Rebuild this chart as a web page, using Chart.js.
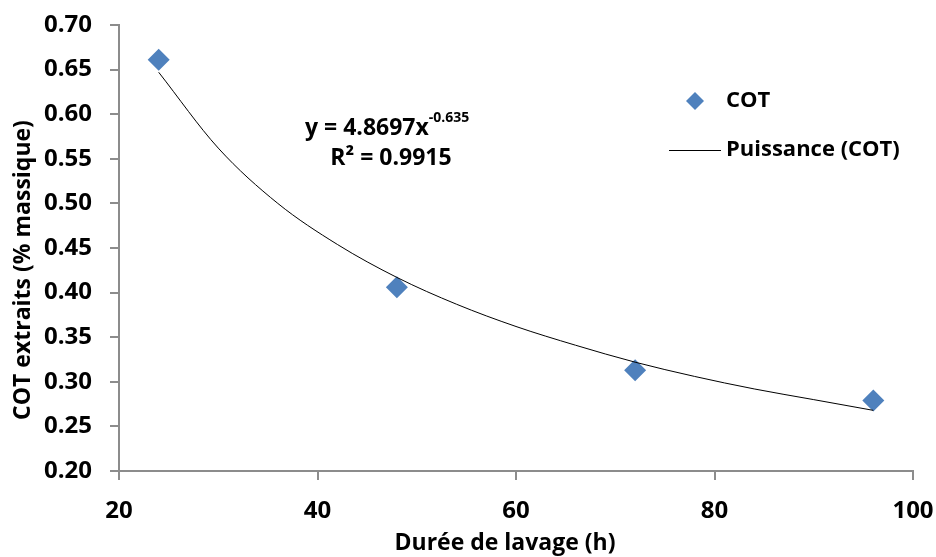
<!DOCTYPE html>
<html>
<head>
<meta charset="utf-8">
<script src="https://cdn.jsdelivr.net/npm/chart.js@4/dist/chart.umd.min.js"></script>
<style>
  html, body { margin: 0; padding: 0; background: #fff; }
  #wrap { width: 936px; height: 557px; }
</style>
</head>
<body>
<div id="wrap"><canvas id="chart" width="936" height="557"></canvas></div>
<script>
// Measured points (washing time in h, extracted TOC in % mass)
const hours = [24, 48, 72, 96];
const cotValues = [0.661, 0.406, 0.313, 0.279];

// Power trendline as drawn in the picture
const trendHours = [24, 30, 36, 42, 48, 54, 60, 66, 72, 78, 84, 90, 96];
const trendValues = [0.647, 0.562, 0.500, 0.454, 0.417, 0.387, 0.362, 0.341, 0.322, 0.306, 0.292, 0.280, 0.268];

const xTicks = [20, 40, 60, 80, 100];
const yTicks = [0.20, 0.25, 0.30, 0.35, 0.40, 0.45, 0.50, 0.55, 0.60, 0.65, 0.70];

const FONT = '"Open Sans", "DejaVu Sans", sans-serif';
const BLUE = '#4F81BD';
const AXIS = '#8c8c8c';

// Draws legend, equation and axis titles at their places in the plot
const annotations = {
  id: 'annotations',
  afterDraw(chart) {
    const ctx = chart.ctx;
    ctx.save();
    ctx.textBaseline = 'middle';

    // legend
    ctx.fillStyle = BLUE;
    ctx.beginPath();
    ctx.moveTo(695, 92); ctx.lineTo(704, 101); ctx.lineTo(695, 110); ctx.lineTo(686, 101);
    ctx.closePath();
    ctx.fill();
    ctx.strokeStyle = '#000';
    ctx.lineWidth = 1;
    ctx.beginPath();
    ctx.moveTo(669, 150.5); ctx.lineTo(721, 150.5);
    ctx.stroke();
    ctx.fillStyle = '#000';
    ctx.font = 'bold 22px ' + FONT;
    ctx.textAlign = 'left';
    ctx.fillText('COT', 726, 101);
    ctx.fillText('Puissance (COT)', 726, 150);

    // trendline equation
    ctx.font = 'bold 23px ' + FONT;
    const main = 'y = 4.8697x';
    ctx.fillText(main, 305, 128);
    const w = ctx.measureText(main).width;
    ctx.font = 'bold 14px ' + FONT;
    ctx.fillText('-0.635', 305 + w, 118);
    ctx.font = 'bold 23px ' + FONT;
    ctx.textAlign = 'center';
    ctx.fillText('R\u00B2 = 0.9915', 391, 158);

    // axis titles
    ctx.font = 'bold 23px ' + FONT;
    ctx.fillText('Durée de lavage (h)', 505, 543);
    ctx.translate(23, 270);
    ctx.rotate(-Math.PI / 2);
    ctx.fillText('COT extraits (% massique)', 0, 0);
    ctx.restore();
  }
};

new Chart(document.getElementById('chart'), {
  type: 'scatter',
  data: {
    datasets: [
      {
        label: 'Puissance (COT)',
        data: trendHours.map((x, i) => ({ x: x, y: trendValues[i] })),
        showLine: true,
        borderColor: '#000',
        borderWidth: 1,
        pointRadius: 0,
        tension: 0.4,
        cubicInterpolationMode: 'monotone',
        order: 0
      },
      {
        label: 'COT',
        data: hours.map((x, i) => ({ x: x, y: cotValues[i] })),
        pointStyle: 'rectRot',
        pointRadius: 11,
        pointHoverRadius: 11,
        backgroundColor: BLUE,
        borderColor: BLUE,
        borderWidth: 0,
        order: 1
      }
    ]
  },
  plugins: [annotations],
  options: {
    responsive: false,
    animation: false,
    layout: { padding: { top: 25, right: 23, left: 0, bottom: 0 } },
    plugins: {
      legend: { display: false },
      tooltip: { enabled: false }
    },
    scales: {
      x: {
        type: 'linear',
        min: 20,
        max: 100,
        afterBuildTicks: (axis) => { axis.ticks = xTicks.map(v => ({ value: v })); },
        afterFit: (axis) => {
          axis.height = 86;
          axis.paddingLeft = 0;
          axis.paddingRight = 0;
        },
        border: { color: AXIS, width: 2 },
        grid: { display: true, drawOnChartArea: false, drawTicks: true, tickLength: 9, color: AXIS, lineWidth: 2 },
        ticks: {
          color: '#000',
          padding: 17,
          font: { family: FONT, size: 24, weight: 'bold' }
        }
      },
      y: {
        type: 'linear',
        min: 0.20,
        max: 0.70,
        afterBuildTicks: (axis) => { axis.ticks = yTicks.map(v => ({ value: v })); },
        afterFit: (axis) => {
          axis.width = 119;
          axis.paddingTop = 0;
          axis.paddingBottom = 0;
        },
        border: { color: AXIS, width: 2 },
        grid: { display: true, drawOnChartArea: false, drawTicks: true, tickLength: 9, color: AXIS, lineWidth: 2 },
        ticks: {
          color: '#000',
          padding: 18,
          callback: (v) => v.toFixed(2),
          font: { family: FONT, size: 24, weight: 'bold' }
        }
      }
    }
  }
});
</script>
</body>
</html>
